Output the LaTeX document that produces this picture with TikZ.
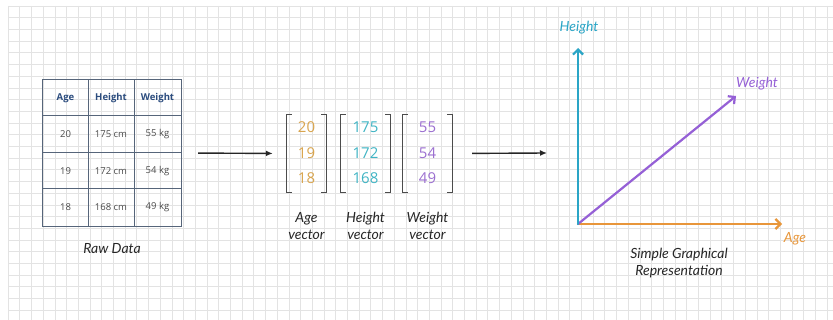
\documentclass[tikz,border=0pt]{standalone}
\usepackage{fontspec}
\setmainfont{Open Sans}
\newfontfamily\handfont{Lato}
\usetikzlibrary{arrows.meta}
\definecolor{gridgray}{HTML}{E3E3E3}
\definecolor{tabline}{HTML}{56657A}
\definecolor{headblue}{HTML}{2B4C7E}
\definecolor{cellgray}{HTML}{4A4A4A}
\definecolor{agecol}{HTML}{D9A54E}
\definecolor{hgtcol}{HTML}{3FB4C4}
\definecolor{wgtcol}{HTML}{9B6FD0}
\definecolor{ageaxis}{HTML}{E8963A}
\definecolor{hgtaxis}{HTML}{2AA5C6}
\definecolor{wgtaxis}{HTML}{9560D6}
\begin{document}
\begin{tikzpicture}[x=1pt,y=-1pt,
    gridline/.style={gridgray, line width=0.6pt},
    tabtext/.style={font=\fontsize{9.5}{11}\selectfont, text=cellgray},
    tabhead/.style={font=\fontsize{9.5}{11}\selectfont\bfseries, text=headblue},
    vecnum/.style={font=\fontsize{15}{16}\selectfont},
    vecbox/.style={minimum height=77pt, inner sep=0pt},
    bracket/.style={draw=black!70, line width=1.3pt},
    hand/.style={font=\handfont\itshape\fontsize{14}{17}\selectfont, align=center, text=black!85},
    flow/.style={-{Latex[length=7pt,width=6pt]}, line width=1.4pt, black!85},
    axis/.style={-{Straight Barb[length=5pt,width=10pt]}, line width=2.2pt, line cap=round}
  ]
  \useasboundingbox (0,0) rectangle (833,320);
  \fill[white] (0,0) rectangle (833,320);
  \foreach \gx in {8,19.7,...,833}
    \draw[gridline] (\gx,6) -- (\gx,320);
  \foreach \gy in {6,17.7,...,320}
    \draw[gridline] (8,\gy) -- (833,\gy);

  % raw data table
  \node[minimum width=138pt, minimum height=146pt, inner sep=0pt] (rawtab) at (112,153) {};
  \draw[tabline, line width=1pt] (rawtab.north west) rectangle (rawtab.south east);
  \foreach \x in {88,134}
    \draw[tabline, line width=1pt] (\x,80) -- (\x,226);
  \foreach \y in {116,153,189}
    \draw[tabline, line width=1pt] (43,\y) -- (181,\y);
  \node[tabhead] (hage) at (65.5,98) {Age};
  \node[tabhead] (hhgt) at (111,98) {Height};
  \node[tabhead] (hwgt) at (157.5,98) {Weight};
  \foreach \a/\h/\w [count=\r] in {20/175 cm/55 kg, 19/172 cm/54 kg, 18/168 cm/49 kg}
  {
    \node[tabtext] (age\r) at (65.5,98+36.5*\r) {\a};
    \node[tabtext] (hgt\r) at (111,98+36.5*\r) {\h};
    \node[tabtext] (wgt\r) at (157.5,98+36.5*\r) {\w};
  }
  \node[hand] (rawlabel) at (112,249) {Raw Data};

  % vectors
  \foreach \n/\cx/\bw/\c/\l/\va/\vb/\vc in {
    agevec/306.5/39/agecol/Age/20/19/18,
    hgtvec/365.5/49/hgtcol/Height/175/172/168,
    wgtvec/427.5/49/wgtcol/Weight/55/54/49}
  {
    \node[vecbox, minimum width=\bw pt] (\n) at (\cx,153.5) {};
    \draw[bracket] ([xshift=5pt]\n.north west) -- (\n.north west) -- (\n.south west) -- ([xshift=5pt]\n.south west);
    \draw[bracket] ([xshift=-5pt]\n.north east) -- (\n.north east) -- (\n.south east) -- ([xshift=-5pt]\n.south east);
    \node[vecnum, text=\c] (\n a) at (\cx,127) {\va};
    \node[vecnum, text=\c] (\n b) at (\cx,153) {\vb};
    \node[vecnum, text=\c] (\n c) at (\cx,178) {\vc};
    \node[hand] (\n label) at (\cx,226) {\l\\vector};
  }

  % flow arrows
  \coordinate (plotin) at (547,153);
  \draw[flow, shorten <=17pt, shorten >=14pt] (rawtab.east) -- (agevec.west);
  \draw[flow, shorten <=20pt] (wgtvec.east) -- (plotin);

  % graph
  \coordinate (origin) at (578,224);
  \coordinate (hgtend) at (578,48);
  \coordinate (ageend) at (782,224);
  \coordinate (wgtend) at (736,96);
  \draw[axis, ageaxis] (origin) -- (ageend);
  \draw[axis, wgtaxis] (origin) -- (wgtend);
  \draw[axis, hgtaxis] (origin) -- (hgtend);
  \node[hand, text=hgtaxis] (hgtlabel) at (579,28) {Height};
  \node[hand, text=wgtaxis] (wgtlabel) at (757,84) {Weight};
  \node[hand, text=ageaxis] (agelabel) at (795,239) {Age};
  \node[hand] (graphlabel) at (679,263) {Simple Graphical\\Representation};
\end{tikzpicture}
\end{document}
